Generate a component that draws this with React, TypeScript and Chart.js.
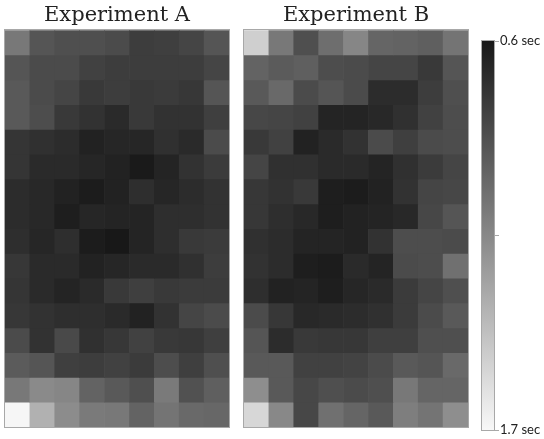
import React, { useEffect, useRef } from "react";
import { Chart, registerables } from "chart.js";

Chart.register(...registerables);

// Reaction time (sec) per cell, rows top→bottom, 9 columns
const columns = ["1", "2", "3", "4", "5", "6", "7", "8", "9"];

const experimentA: number[][] = [
  [1.07, 0.90, 0.87, 0.87, 0.85, 0.78, 0.79, 0.82, 0.90],
  [0.90, 0.85, 0.85, 0.80, 0.78, 0.78, 0.78, 0.78, 0.82],
  [0.92, 0.85, 0.82, 0.76, 0.78, 0.76, 0.77, 0.75, 0.90],
  [0.92, 0.86, 0.76, 0.73, 0.69, 0.76, 0.73, 0.73, 0.79],
  [0.74, 0.72, 0.70, 0.65, 0.67, 0.67, 0.72, 0.69, 0.85],
  [0.74, 0.69, 0.69, 0.67, 0.65, 0.61, 0.66, 0.73, 0.77],
  [0.70, 0.68, 0.65, 0.62, 0.65, 0.71, 0.67, 0.70, 0.73],
  [0.70, 0.68, 0.63, 0.67, 0.66, 0.66, 0.71, 0.71, 0.73],
  [0.71, 0.67, 0.71, 0.62, 0.60, 0.66, 0.71, 0.76, 0.77],
  [0.75, 0.69, 0.69, 0.65, 0.67, 0.69, 0.69, 0.72, 0.78],
  [0.74, 0.69, 0.66, 0.69, 0.76, 0.79, 0.76, 0.77, 0.77],
  [0.75, 0.73, 0.71, 0.71, 0.69, 0.65, 0.73, 0.82, 0.85],
  [0.85, 0.73, 0.84, 0.72, 0.75, 0.80, 0.76, 0.75, 0.79],
  [0.93, 0.90, 0.79, 0.78, 0.80, 0.77, 0.86, 0.79, 0.87],
  [1.07, 1.16, 1.14, 0.97, 0.92, 0.87, 1.08, 0.88, 0.95],
  [1.69, 1.35, 1.17, 1.08, 1.07, 0.97, 1.05, 1.00, 0.99],
];

const experimentB: number[][] = [
  [1.50, 1.07, 0.87, 1.02, 1.14, 0.98, 0.97, 0.95, 1.05],
  [0.97, 0.93, 0.95, 0.86, 0.85, 0.82, 0.82, 0.76, 0.90],
  [0.92, 1.00, 0.85, 0.90, 0.85, 0.70, 0.70, 0.78, 0.87],
  [0.83, 0.82, 0.80, 0.66, 0.66, 0.68, 0.72, 0.80, 0.86],
  [0.76, 0.80, 0.65, 0.69, 0.73, 0.85, 0.79, 0.85, 0.86],
  [0.82, 0.72, 0.72, 0.69, 0.69, 0.66, 0.72, 0.77, 0.82],
  [0.75, 0.73, 0.76, 0.63, 0.62, 0.65, 0.73, 0.82, 0.83],
  [0.75, 0.71, 0.68, 0.63, 0.65, 0.66, 0.68, 0.83, 0.90],
  [0.72, 0.70, 0.66, 0.66, 0.65, 0.73, 0.86, 0.86, 0.85],
  [0.73, 0.70, 0.63, 0.62, 0.69, 0.66, 0.85, 0.86, 1.03],
  [0.71, 0.65, 0.66, 0.63, 0.67, 0.69, 0.77, 0.82, 0.87],
  [0.85, 0.75, 0.68, 0.69, 0.70, 0.72, 0.77, 0.85, 0.92],
  [0.90, 0.70, 0.76, 0.75, 0.75, 0.79, 0.79, 0.87, 0.87],
  [0.92, 0.92, 0.80, 0.80, 0.81, 0.85, 0.92, 0.90, 1.00],
  [1.18, 0.92, 0.83, 0.87, 0.85, 0.87, 1.07, 0.98, 0.98],
  [1.54, 1.15, 0.83, 1.03, 0.98, 0.92, 1.10, 1.05, 1.18],
];

const scaleMin = 0.6;
const scaleMax = 1.7;
const colorbarTicks = [0.6, 1.15, 1.7];
const colorbarLabels = ["0.6 sec", "", "1.7 sec"];

const DARK = 24;
const LIGHT = 248;

function grayFor(v: number): string {
  const t = Math.max(0, Math.min(1, (v - scaleMin) / (scaleMax - scaleMin)));
  const g = Math.round(DARK + t * (LIGHT - DARK));
  return `rgb(${g},${g},${g})`;
}

const framePlugin = {
  id: "frame",
  afterDatasetsDraw(chart: any) {
    const { ctx, chartArea } = chart;
    ctx.save();
    ctx.strokeStyle = "#a8a8a8";
    ctx.lineWidth = 1;
    ctx.strokeRect(
      Math.round(chartArea.left) - 0.5,
      Math.round(chartArea.top) - 0.5,
      Math.round(chartArea.right - chartArea.left) + 1,
      Math.round(chartArea.bottom - chartArea.top) + 1
    );
    ctx.restore();
  },
};

function Heatmap({ title, rows }: { title: string; rows: number[][] }) {
  const ref = useRef<HTMLCanvasElement>(null);
  useEffect(() => {
    if (!ref.current) return;
    const datasets = rows.map((row, i) => ({
      label: `row ${i + 1}`,
      data: row.map(() => 1),
      backgroundColor: row.map((v) => grayFor(v)),
      borderWidth: 0,
      barPercentage: 1,
      categoryPercentage: 1,
      stack: "s",
    }));
    const chart = new Chart(ref.current, {
      type: "bar",
      data: { labels: columns, datasets },
      options: {
        animation: false,
        responsive: false,
        devicePixelRatio: 1,
        layout: { padding: { left: 5, right: 7, top: 0, bottom: 12 } },
        plugins: {
          legend: { display: false },
          tooltip: { enabled: false },
          title: {
            display: true,
            text: title,
            color: "#222",
            font: { family: "'DejaVu Serif', serif", size: 21, weight: "normal" },
            padding: { top: 3, bottom: 2 },
          },
        },
        scales: {
          x: { display: false, stacked: true },
          y: { display: false, stacked: true, reverse: true, min: 0, max: rows.length },
        },
      },
      plugins: [framePlugin],
    });
    return () => chart.destroy();
  }, [title, rows]);
  return <canvas ref={ref} width={236} height={439} style={{ display: "block" }} />;
}

function Colorbar() {
  const ref = useRef<HTMLCanvasElement>(null);
  useEffect(() => {
    if (!ref.current) return;
    const chart = new Chart(ref.current, {
      type: "bar",
      data: {
        labels: ["scale"],
        datasets: [
          {
            data: [[scaleMin, scaleMax]] as any,
            backgroundColor: (c: any) => {
              const ch = c.chart;
              const area = ch.chartArea;
              if (!area) return "#888";
              const y = ch.scales.y;
              const g = ch.ctx.createLinearGradient(0, y.getPixelForValue(scaleMin), 0, y.getPixelForValue(scaleMax));
              g.addColorStop(0, grayFor(scaleMin));
              g.addColorStop(1, grayFor(scaleMax));
              return g;
            },
            borderWidth: 0,
            barPercentage: 1,
            categoryPercentage: 1,
          },
        ],
      },
      options: {
        animation: false,
        responsive: false,
        devicePixelRatio: 1,
        layout: { padding: { left: 12, right: 0, top: 41, bottom: 9 } },
        plugins: { legend: { display: false }, tooltip: { enabled: false }, title: { display: false } },
        scales: {
          x: { display: false },
          y: {
            position: "right",
            reverse: true,
            min: scaleMin,
            max: scaleMax,
            afterBuildTicks: (s: any) => {
              s.ticks = colorbarTicks.map((value) => ({ value }));
            },
            afterFit: (s: any) => {
              s.width = 50;
            },
            border: { display: false },
            grid: { display: true, drawOnChartArea: false, drawTicks: true, tickLength: 5, color: "#a8a8a8" },
            ticks: {
              padding: 1,
              color: "#222",
              font: { family: "Lato, 'Open Sans', sans-serif", size: 13 },
              callback: (_v: any, i: number) => colorbarLabels[i],
            },
          },
        },
      },
      plugins: [framePlugin],
    });
    return () => chart.destroy();
  }, []);
  return <canvas ref={ref} width={74} height={439} style={{ display: "block" }} />;
}

export default function App() {
  return (
    <div style={{ position: "absolute", left: 0, top: 0, width: 544, height: 439, background: "#fff", overflow: "hidden" }}>
      <div style={{ position: "absolute", left: 0, top: 0 }}>
        <Heatmap title="Experiment A" rows={experimentA} />
      </div>
      <div style={{ position: "absolute", left: 239, top: 0 }}>
        <Heatmap title="Experiment B" rows={experimentB} />
      </div>
      <div style={{ position: "absolute", left: 470, top: 0 }}>
        <Colorbar />
      </div>
    </div>
  );
}
